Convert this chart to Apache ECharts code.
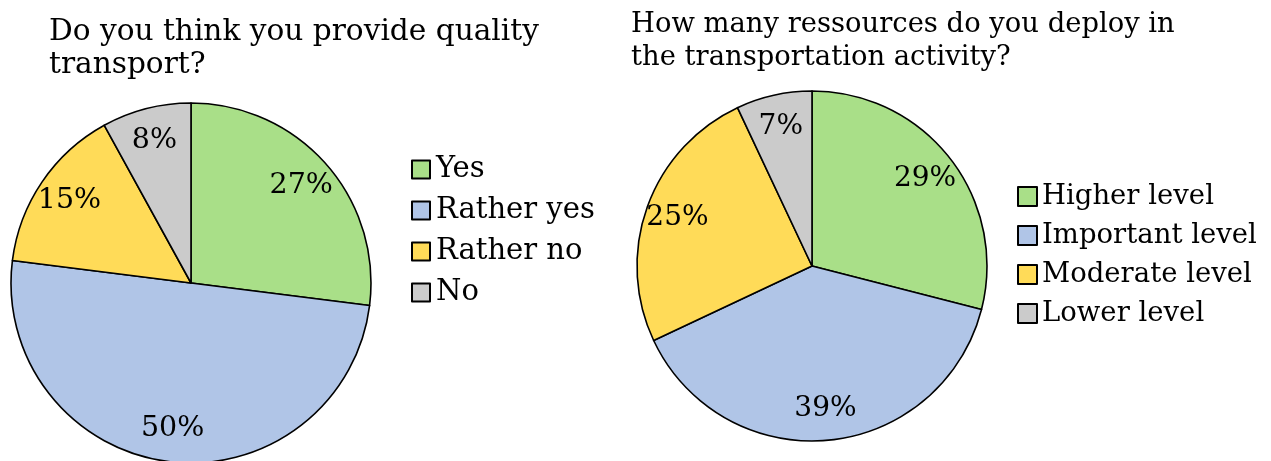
<!DOCTYPE html>
<html>
<head>
<meta charset="utf-8">
<script src="https://cdn.jsdelivr.net/npm/echarts@6/dist/echarts.min.js"></script>
<style>html,body{margin:0;padding:0;background:#fff;}#c{width:1271px;height:461px;}</style>
</head>
<body>
<div id="c"></div>
<script>
const leftTitle = "Do you think you provide quality\ntransport?";
const leftCategories = ["Yes", "Rather yes", "Rather no", "No"];
const leftValues = [27, 50, 15, 8];

const rightTitle = "How many ressources do you deploy in\nthe transportation activity?";
const rightCategories = ["Higher level", "Important level", "Moderate level", "Lower level"];
const rightValues = [29, 39, 25, 7];

const colors = ["#a9df88", "#b0c5e7", "#ffdb58", "#cbcbcb"];

const leftFont = "DejaVu Serif";
const rightFont = "DejaVu Serif";

function pieData(cats, vals) {
  return cats.map((c, i) => ({ name: c, value: vals[i], itemStyle: { color: colors[i] } }));
}

function mainPie(cats, vals, center, r) {
  return {
    type: 'pie', center: center, radius: [0, r], startAngle: 90, clockwise: true,
    data: pieData(cats, vals),
    itemStyle: { borderColor: '#000', borderWidth: 1.6 },
    label: { show: false }, labelLine: { show: false },
    emphasis: { disabled: true }, animation: false
  };
}
function labelPie(cats, vals, center, r, font, size) {
  return {
    type: 'pie', center: center, radius: [r * 0.6, r], startAngle: 90, clockwise: true,
    silent: true, legendHoverLink: false,
    data: cats.map((c, i) => ({ name: c, value: vals[i] })),
    itemStyle: { color: 'rgba(0,0,0,0)', borderWidth: 0 },
    label: { show: true, position: 'inside', formatter: '{c}%', color: '#000', fontFamily: font, fontSize: size },
    labelLine: { show: false },
    emphasis: { disabled: true }, animation: false
  };
}

const chart = echarts.init(document.getElementById('c'), null, { renderer: 'canvas' });
chart.setOption({
  backgroundColor: '#fff',
  animation: false,
  title: [
    { text: leftTitle, left: 49, top: 16, padding: 0,
      textStyle: { fontFamily: leftFont, fontWeight: 'normal', fontSize: 29.6, lineHeight: 33, color: '#000' } },
    { text: rightTitle, left: 631, top: 8, padding: 0,
      textStyle: { fontFamily: rightFont, fontWeight: 'normal', fontSize: 27.4, lineHeight: 33, color: '#000' } }
  ],
  legend: [
    { data: leftCategories, orient: 'vertical', left: 411, top: 149, padding: 0, itemGap: 0,
      itemWidth: 18, itemHeight: 18, icon: 'rect',
      itemStyle: { borderColor: '#000', borderWidth: 2 },
      textStyle: { fontFamily: leftFont, fontSize: 29, lineHeight: 41, color: '#000', padding: [0, 0, 0, 1] } },
    { data: rightCategories, orient: 'vertical', left: 1017, top: 177, padding: 0, itemGap: 0,
      itemWidth: 19, itemHeight: 19, icon: 'rect',
      itemStyle: { borderColor: '#000', borderWidth: 2 },
      textStyle: { fontFamily: rightFont, fontSize: 27.5, lineHeight: 39, color: '#000', padding: [0, 0, 0, 0] } }
  ],
  series: [
    mainPie(leftCategories, leftValues, [191, 283], 180),
    mainPie(rightCategories, rightValues, [812, 266], 175),
    labelPie(leftCategories, leftValues, [191, 283], 180, leftFont, 28.5),
    labelPie(rightCategories, rightValues, [812, 266], 175, rightFont, 28)
  ]
});
</script>
</body>
</html>
